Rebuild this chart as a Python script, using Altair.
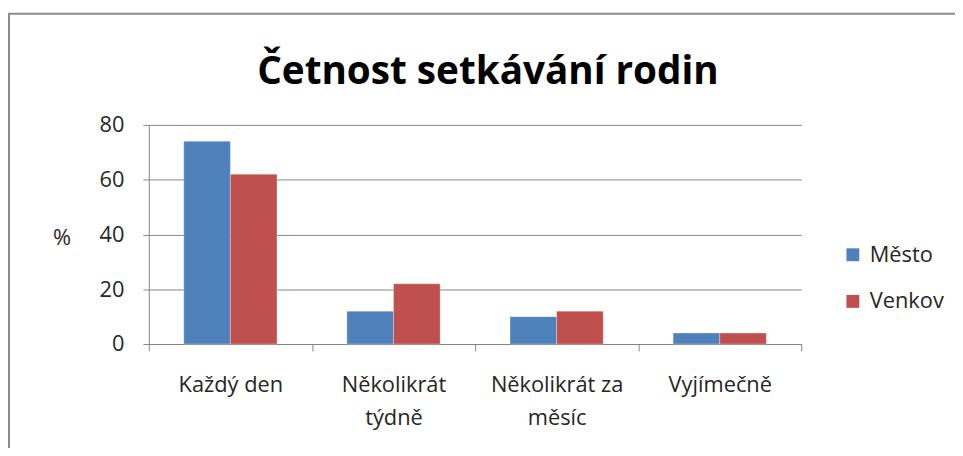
import json
import altair as alt
import pandas as pd

title_text = "Četnost setkávání rodin"
categories = ["Každý den", "Několikrát týdně", "Několikrát za měsíc", "Vyjímečně"]
series = ["Město", "Venkov"]
mesto = [74, 12, 10, 4]
venkov = [62, 22, 12, 4]
y_ticks = [0, 20, 40, 60, 80]
label_lines = {
    "Každý den": ["Každý den"],
    "Několikrát týdně": ["Několikrát", "týdně"],
    "Několikrát za měsíc": ["Několikrát za", "měsíc"],
    "Vyjímečně": ["Vyjímečně"],
}
colors = ["#4F81BD", "#C0504D"]

rows = []
for c, m, v in zip(categories, mesto, venkov):
    rows.append({"kat": c, "serie": series[0], "val": m})
    rows.append({"kat": c, "serie": series[1], "val": v})
df = pd.DataFrame(rows)

expr = "".join(
    f"datum.value == {json.dumps(k, ensure_ascii=False)} ? {json.dumps(v, ensure_ascii=False)} : "
    for k, v in label_lines.items()
) + "datum.label"

FONT = "Open Sans"
GREY = "#868686"
TXT = "#262626"

bars = alt.Chart(df).mark_bar(stroke="white", strokeOpacity=0.5, strokeWidth=0.6).encode(
    x=alt.X(
        "kat:N",
        sort=categories,
        scale=alt.Scale(paddingInner=0, paddingOuter=0),
        axis=alt.Axis(
            title=None, labelAngle=0, labelExpr=expr, tickBand="extent",
            ticks=True, tickSize=7, tickColor=GREY, domainColor=GREY,
            labelFont=FONT, labelFontSize=22, labelColor=TXT, labelPadding=24,
            labelLineHeight=33, grid=False, labelBaseline="top",
        ),
    ),
    xOffset=alt.XOffset("serie:N", sort=series,
                        scale=alt.Scale(paddingOuter=0.75, paddingInner=0)),
    y=alt.Y(
        "val:Q",
        scale=alt.Scale(domain=[0, 80], nice=False),
        axis=alt.Axis(
            values=y_ticks, title="%", titleAngle=0, titleX=-97, titleY=114,
            titleAlign="left", titleBaseline="middle", titleFont=FONT,
            titleFontSize=22, titleFontWeight="normal", titleColor=TXT,
            labelFont=FONT, labelFontSize=22, labelColor=TXT, labelPadding=19,
            tickSize=6, tickColor=GREY, domainColor=GREY, gridColor=GREY,
        ),
    ),
    color=alt.Color(
        "serie:N", sort=series,
        scale=alt.Scale(domain=series, range=colors),
        legend=alt.Legend(
            title=None, orient="none", legendX=699, legendY=120,
            symbolType="square", symbolSize=169, symbolStrokeWidth=0,
            labelFont=FONT, labelFontSize=22, labelColor=TXT,
            rowPadding=25, labelOffset=6,
        ),
    ),
)

one = pd.DataFrame({"a": [0]})

frame = alt.Chart(one).mark_rect(
    fillOpacity=0, stroke="#8c8c8c", strokeWidth=2
).encode(
    x=alt.value(-141), x2=alt.value(840), y=alt.value(-112), y2=alt.value(380)
)

title = alt.Chart(one).mark_text(
    text=title_text, font=FONT, fontSize=39, fontWeight="bold",
    color="#000000", align="center", baseline="alphabetic",
).encode(x=alt.value(342), y=alt.value(-41))

chart = alt.layer(frame, title, bars).properties(
    width=658,
    height=221,
    autosize=alt.AutoSizeParams(type="none"),
    padding={"left": 142, "top": 116, "right": 155, "bottom": 103},
).configure_view(stroke="transparent")

chart.save("out.html", embed_options={"renderer": "svg", "actions": False})
